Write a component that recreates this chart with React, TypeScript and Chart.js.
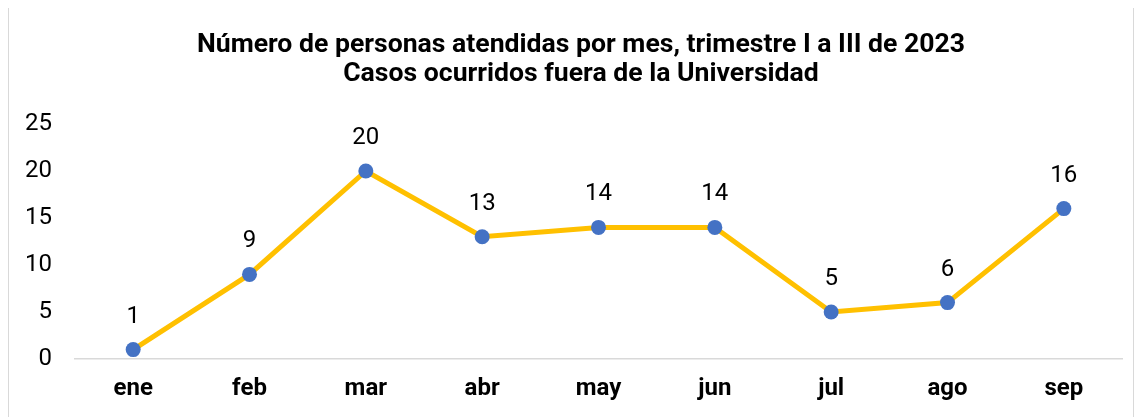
import React, { useEffect, useRef } from "react";
import { Chart, registerables } from "chart.js";

Chart.register(...registerables);

const categories = ["ene", "feb", "mar", "abr", "may", "jun", "jul", "ago", "sep"];
const values = [1, 9, 20, 13, 14, 14, 5, 6, 16];
const titleLines = [
  "Número de personas atendidas por mes, trimestre I a III de 2023",
  "Casos ocurridos fuera de la Universidad",
];

const FONT = "Roboto, 'Noto Sans', sans-serif";

const dataLabels = {
  id: "dataLabels",
  afterDatasetsDraw(chart: any) {
    const ctx = chart.ctx;
    const meta = chart.getDatasetMeta(0);
    ctx.save();
    ctx.font = `24px ${FONT}`;
    ctx.fillStyle = "#000000";
    ctx.textAlign = "center";
    ctx.textBaseline = "middle";
    meta.data.forEach((pt: any, i: number) => {
      ctx.fillText(String(values[i]), pt.x, pt.y - 33);
    });
    ctx.restore();
  },
};

const chartTitle = {
  id: "chartTitle",
  afterDraw(chart: any) {
    const ctx = chart.ctx;
    ctx.save();
    ctx.font = `bold 26.6px ${FONT}`;
    ctx.fillStyle = "#000000";
    ctx.textAlign = "center";
    ctx.textBaseline = "middle";
    titleLines.forEach((line, i) => {
      ctx.fillText(line, 572, 38 + i * 29);
    });
    ctx.restore();
  },
};

export default function App() {
  const ref = useRef<HTMLCanvasElement | null>(null);
  useEffect(() => {
    if (!ref.current) return;
    const chart = new Chart(ref.current, {
      type: "line",
      data: {
        labels: categories,
        datasets: [
          {
            data: values,
            borderColor: "#FFC000",
            borderWidth: 5,
            pointBackgroundColor: "#4472C4",
            pointBorderColor: "#4472C4",
            pointRadius: 7.5,
            pointBorderWidth: 0,
            tension: 0,
          },
        ],
      },
      options: {
        responsive: false,
        animation: false,
        layout: { padding: { left: 0, right: 11, top: 117, bottom: 0 } },
        plugins: {
          legend: { display: false },
          tooltip: { enabled: false },
          title: { display: false },
        },
        scales: {
          x: {
            offset: true,
            grid: { display: false, drawTicks: false },
            border: { display: true, color: "#d9d9d9", width: 1.5 },
            ticks: {
              color: "#000000",
              font: { family: FONT, size: 24, weight: "bold" },
              padding: 16,
              maxRotation: 0,
            },
            afterFit(scale: any) {
              scale.height = 59;
            },
          },
          y: {
            min: 0,
            max: 25,
            grid: { display: false, drawTicks: false },
            border: { display: false },
            ticks: {
              stepSize: 5,
              color: "#000000",
              font: { family: FONT, size: 24 },
              padding: 23,
            },
            afterFit(scale: any) {
              scale.width = 66;
            },
          },
        },
      },
      plugins: [dataLabels, chartTitle],
    });
    return () => chart.destroy();
  }, []);
  return (
    <div
      style={{
        marginTop: -2,
        width: 1126,
        height: 413,
        border: "1px solid #d9d9d9",
        boxSizing: "border-box",
        background: "#fff",
      }}
    >
      <canvas ref={ref} width={1124} height={411} style={{ display: "block" }} />
    </div>
  );
}
